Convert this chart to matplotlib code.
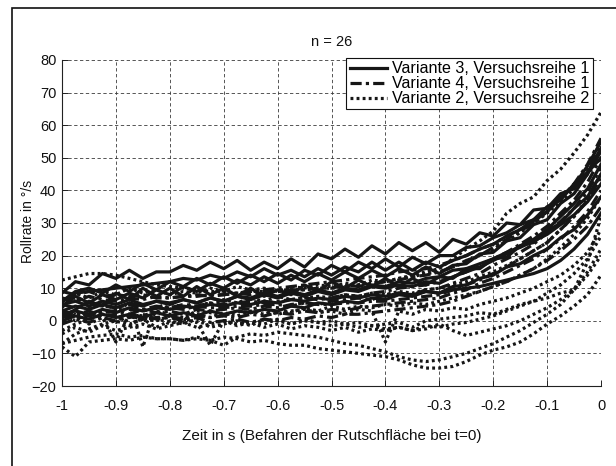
import matplotlib
matplotlib.use("Agg")
import matplotlib.pyplot as plt
from matplotlib.patches import Rectangle
import numpy as np

plt.rcParams['font.family'] = ['Liberation Sans', 'DejaVu Sans']

# time axis (s), one sample every 0.025 s
t = [-1 + 0.025 * i for i in range(41)]

# Variante 3, Versuchsreihe 1 (solid)
var3 = [
    [8.5, 12, 11, 14.5, 13, 15.5, 13, 15, 15, 17, 15.5, 18, 16, 18.5, 15.5, 18, 16, 19, 16.5, 20.5, 19, 22, 19.5, 23, 20.5, 24, 21.5, 24, 21, 25, 23.5, 27, 26, 30, 29.5, 34, 34.5, 39, 40.5, 45.5, 50],
    [4, 8.5, 9, 9.5, 10, 10.5, 11, 11.5, 12, 13, 12.5, 14, 13, 15, 13.5, 16, 14, 15.5, 13.5, 16, 14, 16.5, 15, 18, 15.5, 18, 15.5, 18, 16.5, 18.5, 20, 22, 23.5, 26, 28, 31, 33.5, 38, 41.5, 47.5, 55],
    [1, 3.5, 6, 4.5, 8.5, 6.5, 10, 7.5, 10, 7.5, 10.5, 8, 10, 7.5, 10, 7.5, 9.5, 8, 11, 9, 12, 10, 12.5, 10.5, 13, 10.5, 13, 11, 13.5, 13, 16, 16, 19, 19.5, 23, 24, 27.5, 30, 34.5, 38, 45],
    [6, 7.5, 5.5, 8, 6.5, 8.5, 7, 9.5, 8, 10.5, 9, 11.5, 10, 12.5, 11, 13.5, 11.5, 14, 12, 14.5, 12.5, 15, 13, 15.5, 13.5, 16, 14, 16.5, 14.5, 17, 17.5, 20.5, 21, 24.5, 25.5, 29.5, 31, 36, 39, 45, 52],
    [3, 4.5, 3.5, 5, 4, 5.5, 4.5, 6, 5, 6.5, 5.5, 7, 6, 7.5, 6.5, 8, 7, 8.5, 7.5, 9, 8, 9.5, 9, 10.5, 10, 11, 10.5, 12, 11.5, 13.5, 15, 16.5, 18.5, 20.5, 23, 25, 28, 32, 36, 40.5, 48],
    [2, 3, 2, 3.5, 2.5, 4, 3, 4, 3.5, 4.5, 4, 5, 4.5, 5.5, 5, 6, 5.5, 6.5, 6, 7, 6.5, 7.5, 7, 8, 7.5, 8.5, 8, 9, 8.5, 9.5, 10, 10.5, 11.5, 12.5, 13.5, 14.5, 16, 18.5, 22, 26.5, 33],
    [6, 9, 10, 8.5, 11, 9, 11.5, 9.5, 12, 10.5, 13, 11, 13.5, 11.5, 14, 12, 14.5, 12.5, 15.5, 14, 17, 15, 18, 16, 19, 16.5, 19.5, 17.5, 20, 20, 22.5, 23, 25.5, 27, 29.5, 31, 35, 37, 42, 45.5, 53],
    [5, 6, 4.5, 6, 5, 6.5, 5, 6, 5.5, 6.5, 5.5, 7, 6, 7.5, 7, 8.5, 7.5, 9, 8, 9.5, 8.5, 10, 9.5, 11, 10.5, 12, 11.5, 13, 13.5, 15.5, 16, 17.5, 19, 21, 22.5, 24.5, 26.5, 29.5, 32.5, 36.5, 42],
    [0, 1.5, 0.5, 2, 1, 2, 1, 2.5, 1.5, 2.5, 1.5, 3, 2, 3, 2.5, 3.5, 3, 4.5, 4, 5.5, 5, 6, 5.5, 7, 6.5, 8, 7.5, 9, 8.5, 10.5, 11, 13, 14, 16.5, 17.5, 20, 22, 25.5, 28, 32.5, 38],
]

# Variante 4, Versuchsreihe 1 (dash-dot)
var4 = [
    [2, 3, 1.5, 2.5, 3, 2, 3.5, 2.5, 3, 2, 3.5, 3, 3.5, 4, 3.5, 4.5, 4, 5, 5.5, 5, 6, 6.5, 7, 6.5, 8, 8.5, 8, 9.5, 10, 11.5, 13, 14.5, 17, 19, 21, 23.5, 27, 30.5, 34.5, 39.5, 47],
    [5, 4, 5.5, 4.5, 4, 5, 3.5, 4.5, 4, 5, 4.5, 5.5, 5, 5.5, 6, 5.5, 6, 6.5, 7, 6.5, 7, 8, 7.5, 8.5, 9, 10, 10.5, 11, 12, 13.5, 15, 17, 19, 21, 23.5, 26, 29, 33, 37, 42.5, 50],
    [-1, 0.5, -0.5, 1, 0, 1.5, 0.5, 1, 1.5, 0.5, 1.5, 1, 1.5, 1, 2, 1.5, 2.5, 2, 3, 2.5, 3.5, 3, 4, 4.5, 5, 5.5, 6, 6.5, 7, 8.5, 9.5, 11.5, 13, 15, 17, 19, 22, 25, 29, 33.5, 40],
    [7, 6, 7.5, 6.5, 6, 7, 6.5, 7.5, 7, 7.5, 8, 7.5, 8, 8.5, 8, 9, 9, 9.5, 9.5, 10, 10, 11, 10.5, 11.5, 12, 12.5, 13.5, 14, 15, 16.5, 18.5, 20, 22.5, 25, 27.5, 30, 33.5, 37.5, 42, 48, 56],
    [3, 2, 3, 1.5, 2, 1, 2, 0.5, 1, 0, 1, -0.5, 0, 0.5, -0.5, 0.5, 0, 1, 0.5, 1.5, 1, 2, 2, 2.5, 3, 3.5, 4, 4.5, 5, 6, 7.5, 9, 10.5, 12, 14, 16, 18.5, 21.5, 25, 29, 35],
    [9, 8, 9, 7.5, 8, 7.5, 8, 7, 7, 7.5, 7.5, 8, 8, 8.5, 9, 9.5, 10, 10.5, 11, 11.5, 12, 12.5, 13, 13.5, 14, 15, 15.5, 16, 17, 18.5, 20, 22, 23.5, 26, 28, 30.5, 33.5, 37.5, 41.5, 46.5, 54],
    [1, 2, 1.5, 3, 3, 3.5, 3, 4, 4, 3.5, 4.5, 4, 4, 4.5, 4.5, 5, 5, 4.5, 5.5, 5, 5, 5.5, 5.5, 6, 6, 6.5, 7, 7.5, 8, 9.5, 11, 12.5, 14.5, 16.5, 19, 21.5, 24, 28, 32, 37, 44],
]

# Variante 2, Versuchsreihe 2 (dotted)
var2 = [
    [12.5, 13.5, 14.5, 14.5, 14, 13, 12, 11, 10.5, 10, 9.5, 9, 9, 8.5, 9, 9, 9, 9.5, 9.5, 10, 10, 10.5, 11, 11.5, 12, 13, 14, 15, 16, 19, 22, 24.5, 27.5, 33, 36, 38, 43, 46.5, 51.5, 57, 64],
    [-7, -6, -5, -4.5, -4, -5, -4.5, -5.5, -5.5, -6, -5.5, -6, -5, -5.5, -6.5, -6, -7, -7.5, -7.5, -8.5, -9, -9.5, -10, -10.5, -11, -12, -13.5, -14.5, -14.5, -14, -12.5, -10.5, -9, -8, -6.5, -4, -1, 1.5, 4.5, 8, 14],
    [-8, -11, -6.5, -6, -5.5, -6, -5, -5.5, -5.5, -6, -5, -6, -7.5, -5, -4, -4.5, -3.5, -4, -4.5, -5, -6, -7, -7.5, -8.5, -9.5, -11, -12, -12.5, -12, -11, -10, -8.5, -7, -5, -3, -0.5, 2, 5, 9.5, 15, 22],
    [-3, -1, 0.5, 2, 1.5, -1, 0.5, -2, 0, -1, 0.5, -2, -1, 0, -1.5, 0.5, 0, -1, 0.5, -0.5, 0, -1, -0.5, -1.5, -1, -0.5, -2, 0, 0.5, 1, 1.5, 2.5, 2, 3.5, 5, 6, 7, 8.5, 9.5, 18, 32],
    [2, 0, 3, 1, -6.5, 2, 1.5, 3, 2, 1, 3, 2.5, 1.5, 3, 2.5, 3.5, 2, 3, 3.5, 2.5, 3, 2, 3.5, 3, -6.5, 3, 2, 3.5, 3, 4, 3.5, 5, 6, 7, 8.5, 10, 12, 14, 17, 21, 28],
    [5, 7, 4, 6, 3, 5.5, -8, 4, 5.5, 4, 6, 5, 6.5, 5.5, 7, 6, 7.5, 6.5, 7, 7.5, 7, 8, 7.5, 8.5, 8, 9, 8.5, 9.5, 10, 11, 12, 13.5, 15, 17, 19, 21.5, 24, 28, 32, 37.5, 45],
    [0, 2, -1, 1, -0.5, 1.5, 0, 1, -1, 0.5, -0.5, -7.5, 0, -1, -0.5, -2, -1, -2.5, -1.5, -2, -3, -2, -3.5, -2.5, -3, -2, -3, -1.5, -2, -1, -0.5, 0.5, 1.5, 3, 4.5, 6, 8.5, 11, 14.5, 19, 26],
    [6, 8.5, 7, 9, 8, 10, 8.5, 9.5, 8, 9, 8.5, 10, 9, 10.5, 9.5, 10, 9, 10.5, 10, 11, 10.5, 11.5, 11, 12.5, 12, 13, 13.5, 14.5, 15, 16.5, 18, 20, 22, 24.5, 27, 30, 33, 36.5, 40.5, 45, 50],
    [-7, -4, -2.5, -1, 0, -1.5, 1, 0, 1.5, 0.5, 2, 1, 2.5, 1.5, 3, 2, 3.5, 2.5, 4, 3, 4.5, 3.5, 4.5, 4, 5, 4.5, 5.5, 5, 6, 7, 8, 9, 10.5, 12, 14, 16, 19, 22.5, 26.5, 31.5, 38],
    [-4, -2, -3.5, -1.5, -3, -2, -1, -2.5, -1.5, -0.5, -2, -1, 0, -1.5, -0.5, -1, 0.5, -1, 0, -0.5, -1.5, -1, -2, -1.5, -2.5, -2, -3, -2.5, -1, -3, -4.5, -3.5, -2.5, -1.5, 0, 2, 4, 6.5, 9.5, 14, 20],
]

labels = ["Variante 3, Versuchsreihe 1",
          "Variante 4, Versuchsreihe 1",
          "Variante 2, Versuchsreihe 2"]
x_ticks = [-1, -0.9, -0.8, -0.7, -0.6, -0.5, -0.4, -0.3, -0.2, -0.1, 0]
x_ticklabels = ["-1", "-0.9", "-0.8", "-0.7", "-0.6", "-0.5", "-0.4", "-0.3", "-0.2", "-0.1", "0"]
y_ticks = [-20, -10, 0, 10, 20, 30, 40, 50, 60, 70, 80]

W, H = 616, 466
fig = plt.figure(figsize=(W / 100, H / 100), dpi=100)
fig.patch.set_facecolor("white")

L, R, T, B = 62, 601, 60, 386
ax = fig.add_axes([L / W, 1 - B / H, (R - L) / W, (B - T) / H])

col = "#161616"
LW = 2.3
for k, y in enumerate(var2):
    ax.plot(t, y, color=col, lw=LW, linestyle=(0, (0.9, 1.0)),
            label=labels[2] if k == 0 else None, zorder=3)
for k, y in enumerate(var4):
    ax.plot(t, y, color=col, lw=LW, linestyle=(0, (3.5, 1.3, 1, 1.3)),
            label=labels[1] if k == 0 else None, zorder=3)
for k, y in enumerate(var3):
    ax.plot(t, y, color=col, lw=LW, linestyle="-",
            label=labels[0] if k == 0 else None, zorder=3)

ax.set_xlim(-1, 0)
ax.set_ylim(-20, 80)
ax.set_xticks(x_ticks)
ax.set_xticklabels(x_ticklabels)
ax.set_yticks(y_ticks)
ax.grid(True, color="#3a3a3a", lw=0.6, linestyle=(0, (4, 3)))
ax.set_axisbelow(True)
for s in ["top", "right"]:
    ax.spines[s].set_visible(False)
for s in ["left", "bottom"]:
    ax.spines[s].set_linewidth(0.8)
    ax.spines[s].set_color("#222222")
ax.tick_params(direction="in", length=4, width=0.7, labelsize=10.5, color="#222222",
               labelcolor="#111111")
ax.tick_params(axis="x", pad=9)
ax.tick_params(axis="y", pad=4)

handles, labs = ax.get_legend_handles_labels()
order = [labs.index(l) for l in labels]
leg = ax.legend([handles[i] for i in order], [labs[i] for i in order],
                loc="upper right", bbox_to_anchor=(593 / W, 1 - 58 / H),
                bbox_transform=fig.transFigure,
                fontsize=11.6, frameon=True, fancybox=False,
                framealpha=1, edgecolor="#111111", borderpad=0.2,
                labelspacing=0.0, handlelength=2.3, handletextpad=0.35,
                borderaxespad=0.0)
leg.get_frame().set_linewidth(0.8)
leg.set_zorder(10)

fig.text((L + R) / 2 / W, 1 - 42 / H, "n = 26", ha="center", va="center",
         fontsize=10.5, color="#111111")
fig.text((L + R) / 2 / W, 1 - 436 / H, "Zeit in s (Befahren der Rutschfläche bei t=0)",
         ha="center", va="center", fontsize=11, color="#111111")
fig.text(28 / W, 1 - 221 / H, "Rollrate in °/s", ha="center", va="center",
         rotation=90, fontsize=10, color="#111111")

# outer frame (left and top edges visible)
fig.patches.append(Rectangle((12 / W, -0.05), 1.2, 1 - 8 / H + 0.05,
                             transform=fig.transFigure, fill=False,
                             edgecolor="#111111", lw=1.2))

fig.savefig("out.png", dpi=100, facecolor="white")
